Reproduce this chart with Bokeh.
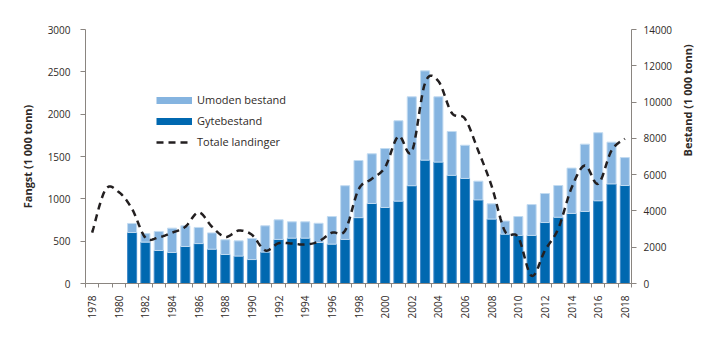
import math
from bokeh.plotting import figure
from bokeh.models import Range1d, LinearAxis, FixedTicker, Legend, LegendItem, ColumnDataSource
from bokeh.embed import file_html
from bokeh.resources import INLINE

# ---------------- data ----------------
bar_years = list(range(1981, 2019))
# Gytebestand (1 000 tonn, right axis)
gytebestand = [2810, 2280, 1820, 1710, 2040, 2200, 1890, 1600, 1510, 1320,
               1730, 2430, 2500, 2500, 2260, 2170, 2430, 3630, 4410, 4190,
               4540, 5390, 6800, 6690, 5960, 5790, 4610, 3550, 2720, 2650,
               2650, 3360, 3650, 3860, 3970, 4560, 5490, 5400]
# Umoden bestand (1 000 tonn, right axis)
umoden = [500, 470, 1050, 1340, 1140, 890, 900, 810, 840, 1160,
          1450, 1080, 900, 900, 1060, 1520, 2960, 3150, 2740, 3250,
          4430, 4900, 4920, 3600, 2420, 1830, 1030, 840, 720, 1040,
          1700, 1600, 1750, 2500, 3710, 3750, 2300, 1540]

line_years = list(range(1978, 2019))
# Totale landinger (1 000 tonn, left axis)
landinger = [600, 1110, 1080, 880, 540, 545, 600, 670, 840, 670,
             550, 625, 575, 390, 476, 472, 460, 496, 600, 626,
             1110, 1236, 1374, 1740, 1555, 2370, 2390, 2015, 1945, 1565,
             1150, 615, 545, 90, 390, 648, 1130, 1394, 1177, 1571, 1709]

left_ticks = [0, 500, 1000, 1500, 2000, 2500, 3000]
right_ticks = [0, 2000, 4000, 6000, 8000, 10000, 12000, 14000]
label_years = list(range(1978, 2019, 2))

series_names = ["Umoden bestand", "Gytebestand", "Totale landinger"]

# ---------------- style ----------------
DARK = "#0068b0"
LIGHT = "#85b4e0"
LINE = "#231f20"
TEXT = "#2f2a27"
AXIS = "#8a8580"
FONT = "Open Sans"


def smooth(xs, ys, steps=12):
    """Catmull-Rom rendering path through the data points (like a smoothed line)."""
    n = len(xs)
    px, py = [], []
    for i in range(n - 1):
        x0, y0 = (xs[i - 1], ys[i - 1]) if i > 0 else (xs[i], ys[i])
        x1, y1 = xs[i], ys[i]
        x2, y2 = xs[i + 1], ys[i + 1]
        x3, y3 = (xs[i + 2], ys[i + 2]) if i + 2 < n else (xs[i + 1], ys[i + 1])
        c1x, c1y = x1 + (x2 - x0) / 6.0, y1 + (y2 - y0) / 6.0
        c2x, c2y = x2 - (x3 - x1) / 6.0, y2 - (y3 - y1) / 6.0
        for s in range(steps):
            t = s / steps
            a = (1 - t) ** 3
            b = 3 * (1 - t) ** 2 * t
            c = 3 * (1 - t) * t ** 2
            d = t ** 3
            px.append(a * x1 + b * c1x + c * c2x + d * x2)
            py.append(a * y1 + b * c1y + c * c2y + d * y2)
    px.append(xs[-1])
    py.append(ys[-1])
    return px, py


p = figure(width=719, height=341, output_backend="svg", toolbar_location=None,
           x_range=Range1d(1977.5, 2018.5), y_range=Range1d(0, 3000),
           min_border_left=85, min_border_right=88, min_border_top=29,
           min_border_bottom=58)
p.extra_y_ranges = {"bestand": Range1d(0, 14000)}
p.grid.visible = False
p.outline_line_color = None
p.background_fill_color = "white"
p.border_fill_color = "white"

src = ColumnDataSource(dict(year=bar_years, gyte=gytebestand, umoden=umoden))
p.vbar_stack(["gyte", "umoden"], x="year", width=0.68, source=src,
             fill_color=[DARK, LIGHT], line_color=["#3d88c8", "#c2dbf1"],
             line_width=1, y_range_name="bestand")

lx, ly = smooth(line_years, landinger)
r_line = p.line(lx, ly, line_color=LINE, line_width=2.5, line_dash="7 5")

nan = float("nan")
r_um = p.line([nan], [nan], line_color=LIGHT, line_width=7)
r_gy = p.line([nan], [nan], line_color=DARK, line_width=7)

# left axis
ya = p.yaxis[0]
ya.ticker = FixedTicker(ticks=left_ticks)
ya.axis_label = "Fangst (1 000 tonn)"

# right axis
ra = LinearAxis(y_range_name="bestand", ticker=FixedTicker(ticks=right_ticks),
                axis_label="Bestand (1 000 tonn)")
p.add_layout(ra, "right")

for ax in (ya, ra):
    ax.axis_line_color = AXIS
    ax.major_tick_line_color = AXIS
    ax.major_tick_out = 5
    ax.major_tick_in = 0
    ax.minor_tick_line_color = None
    ax.major_label_text_font = FONT
    ax.major_label_text_font_size = "10px"
    ax.major_label_text_color = TEXT
    ax.axis_label_text_font = FONT
    ax.axis_label_text_font_size = "11px"
    ax.axis_label_text_font_style = "bold"
    ax.axis_label_text_color = TEXT
ya.major_label_standoff = 10
ya.axis_label_standoff = 10
ra.major_label_standoff = 7
ra.axis_label_standoff = 12
ra.axis_label_orientation = math.pi / 2

# bottom axis
xa = p.xaxis[0]
xa.ticker = FixedTicker(ticks=label_years,
                        minor_ticks=[y - 0.5 for y in range(1978, 2020)])
xa.axis_line_color = AXIS
xa.major_tick_line_color = None
xa.major_tick_out = 0
xa.major_tick_in = 0
xa.minor_tick_line_color = AXIS
xa.minor_tick_out = 4
xa.minor_tick_in = 0
xa.major_label_orientation = math.pi / 2
xa.major_label_standoff = 8
xa.major_label_text_font = FONT
xa.major_label_text_font_size = "10px"
xa.major_label_text_color = TEXT

legend = Legend(items=[LegendItem(label=series_names[0], renderers=[r_um]),
                       LegendItem(label=series_names[1], renderers=[r_gy]),
                       LegendItem(label=series_names[2], renderers=[r_line])],
                location=(71, 134), orientation="vertical",
                glyph_width=36, glyph_height=14, spacing=6, padding=0, margin=0,
                label_standoff=5, label_text_font=FONT, label_text_font_size="11px",
                label_text_color=TEXT, border_line_color=None,
                background_fill_alpha=0)
p.add_layout(legend, "center")

open("out.html", "w").write(file_html(p, INLINE))
